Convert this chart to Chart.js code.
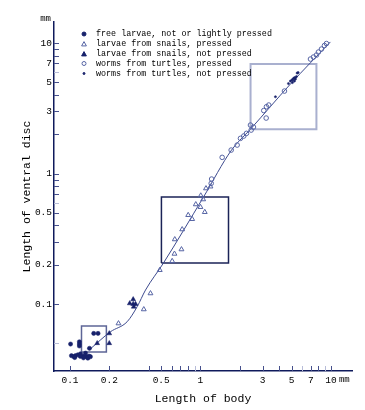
<!DOCTYPE html>
<html><head><meta charset="utf-8">
<script src="https://cdn.jsdelivr.net/npm/chart.js@4.4.1/dist/chart.umd.min.js"></script>
<style>html,body{margin:0;padding:0;background:#fff}canvas{display:block}</style>
</head><body>
<canvas id="c" width="365" height="410"></canvas>
<script>
// ---- data (mm) ----
const seriesLabels = [
  'free larvae, not or lightly pressed',
  'larvae from snails, pressed',
  'larvae from snails, not pressed',
  'worms from turtles, pressed',
  'worms from turtles, not pressed'
];
const freeLarvae = [
  [0.101,0.0494],[0.118,0.0514],[0.118,0.0494],[0.118,0.0477],[0.152,0.0596],[0.164,0.0596],
  [0.141,0.0458],[0.1026,0.0402],[0.1073,0.0395],[0.110,0.0402],[0.1149,0.0409],[0.1205,0.0416],
  [0.1262,0.0400],[0.1315,0.0421],[0.1336,0.0395],[0.137,0.0385],[0.1395,0.0400],[0.1434,0.0395],
  [0.1088,0.0389],[0.1268,0.0387],[0.120,0.0397]
];
const larvaePressed = [
  [0.3677,0.0911],[0.4138,0.1208],[0.2353,0.0711],[0.4876,0.1822],[0.6068,0.2135],[0.632,0.2428],
  [0.7151,0.2625],[0.6354,0.3132],[0.7241,0.3737],[0.8049,0.4808],[0.8637,0.448],[0.9205,0.5808],
  [1.0,0.5537],[1.0789,0.5069],[1.0053,0.6782],[1.0488,0.6342],[1.1019,0.770],[1.193,0.795]
];
const larvaeNotPressed = [
  [0.1616,0.0501],[0.200,0.0596],[0.200,0.0501],[0.287,0.1012],[0.305,0.1087],[0.305,0.100],
  [0.318,0.100],[0.308,0.0954]
];
const wormsPressed = [
  [1.208,0.841],[1.2173,0.9077],[1.4664,1.3309],[1.7187,1.5136],[1.9104,1.6537],[2.0253,1.8612],
  [2.1468,1.939],[2.2517,2.0324],[2.446,2.1544],[2.416,2.3527],[2.5475,2.2712],[3.0556,3.0397],
  [3.2047,3.2508],[3.3376,3.3497],[3.1879,2.6628],[4.4027,4.2869],[6.9663,7.5424],[7.3437,7.8126],
  [7.742,8.091],[8.0192,8.531],[8.4559,8.995],[8.9163,9.569],[9.2368,9.913]
];
const wormsNotPressed = [
  [3.755,3.877],[4.7246,4.8937],[4.8937,5.1143],[5.0244,5.2058],[5.1143,5.2978],[5.2058,5.3926],
  [5.2978,5.4403],[5.3456,5.2978],[5.4403,5.5373],[5.5083,5.8896],[5.607,5.9418],[5.2518,5.1143],
  [5.0697,4.981]
];
const fittedCurve = [
  [0.142,0.045],[0.204,0.0613],[0.274,0.0732],[0.327,0.0954],[0.379,0.128],[0.52,0.206],
  [1.054,0.66],[1.73,1.514],[2.42,2.19],[4.89,4.85],[9.9,10.2]
];
// boxes: [xMin, xMax, yMin, yMax]
const boxSmall = [0.1225, 0.19, 0.0429, 0.0678];
const boxMiddle = [0.502, 1.64, 0.206, 0.66];
const boxLarge = [2.42, 7.74, 2.19, 6.9];

const xRange = [0.0754, 14.5];
const yRange = [0.0307, 14.5];
const xTickValues = [0.1,0.2,0.4,0.5,0.6,0.7,0.8,0.9,1,2,3,4,5,6,7,8,9,10];
const yTickValues = [0.05,0.1,0.2,0.3,0.4,0.5,0.6,0.7,0.8,0.9,1,2,3,4,5,6,7,8,9,10];
const xTickLabels = [0.1,0.2,0.5,1,3,5,7,10];
const yTickLabels = [0.1,0.2,0.5,1,3,5,7,10];
const xLightTicks = [0.9,6,9];
const yLightTicks = [0.05,0.6,6];
const axisTitles = ['Length of body', 'Length of ventral disc'];
const unitLabel = 'mm';

// ---- chart ----
const NAVY = '#17216b';
const OPEN = '#5664a4';
const FONT = "'Liberation Mono', 'DejaVu Sans Mono', monospace";
const pts = a => a.map(([x,y]) => ({x, y}));
const rect = b => [{x:b[0],y:b[2]},{x:b[1],y:b[2]},{x:b[1],y:b[3]},{x:b[0],y:b[3]},{x:b[0],y:b[2]}];
const near = (v, list) => list.some(t => Math.abs(t - v) < 1e-9);

const pointSets = [
  {data: freeLarvae, pointStyle:'circle', pointRadius:2.1, pointBackgroundColor:NAVY, pointBorderColor:NAVY, pointBorderWidth:0.5},
  {data: larvaePressed, pointStyle:'triangle', pointRadius:2.8, pointBackgroundColor:'rgba(255,255,255,0)', pointBorderColor:OPEN, pointBorderWidth:1},
  {data: larvaeNotPressed, pointStyle:'triangle', pointRadius:2.8, pointBackgroundColor:NAVY, pointBorderColor:NAVY, pointBorderWidth:0.5},
  {data: wormsPressed, pointStyle:'circle', pointRadius:2.3, pointBackgroundColor:'rgba(255,255,255,0)', pointBorderColor:OPEN, pointBorderWidth:1},
  {data: wormsNotPressed, pointStyle:'circle', pointRadius:1.1, pointBackgroundColor:NAVY, pointBorderColor:NAVY, pointBorderWidth:0.5}
];

const datasets = pointSets.map((s, i) => Object.assign({}, s, {
  label: seriesLabels[i], data: pts(s.data), showLine: false, order: 1
}));
datasets.push({label:'curve', data: pts(fittedCurve), showLine:true, pointRadius:0, borderColor:'#3d4a8e', borderWidth:1, cubicInterpolationMode:'monotone', fill:false, order:2});
datasets.push({label:'boxSmall', data: rect(boxSmall), showLine:true, pointRadius:0, borderColor:'#5d6597', borderWidth:1.5, tension:0, fill:false, order:3});
datasets.push({label:'boxMiddle', data: rect(boxMiddle), showLine:true, pointRadius:0, borderColor:'#1b2357', borderWidth:1.5, tension:0, fill:false, order:3});
datasets.push({label:'boxLarge', data: rect(boxLarge), showLine:true, pointRadius:0, borderColor:'#a9b0cf', borderWidth:2, tension:0, fill:false, order:3});

const decor = {
  id: 'decor',
  afterDraw(chart) {
    const ctx = chart.ctx, xs = chart.scales.x, ys = chart.scales.y, a = chart.chartArea;
    ctx.save();
    // inward tick marks
    ctx.lineWidth = 1;
    xs.ticks.forEach(t => {
      const px = Math.round(xs.getPixelForValue(t.value)) + 0.5;
      ctx.strokeStyle = near(t.value, xLightTicks) ? '#b7bcd8' : '#46508c';
      ctx.beginPath(); ctx.moveTo(px, a.bottom); ctx.lineTo(px, a.bottom - 5); ctx.stroke();
    });
    ys.ticks.forEach(t => {
      const py = Math.round(ys.getPixelForValue(t.value)) + 0.5;
      ctx.strokeStyle = near(t.value, yLightTicks) ? '#b7bcd8' : '#46508c';
      ctx.beginPath(); ctx.moveTo(a.left, py); ctx.lineTo(a.left + 5, py); ctx.stroke();
    });
    // unit labels
    ctx.fillStyle = '#000';
    ctx.font = '9px ' + FONT;
    ctx.textBaseline = 'middle';
    ctx.textAlign = 'right';
    ctx.fillText(unitLabel, a.left - 3, a.top - 3);
    ctx.textAlign = 'left';
    ctx.fillText(unitLabel, xs.getPixelForValue(10) + 8, a.bottom + 9);
    // legend
    const rows = [34, 44, 54, 63.5, 73.5];
    const mx = 84;
    pointSets.forEach((s, i) => {
      const y = rows[i];
      ctx.fillStyle = s.pointBackgroundColor;
      ctx.strokeStyle = s.pointBorderColor;
      ctx.lineWidth = 1;
      const r = s.pointStyle === 'triangle' ? 2.4 : (i === 4 ? 1.0 : 2.0);
      ctx.beginPath();
      if (s.pointStyle === 'triangle') {
        ctx.moveTo(mx, y - r); ctx.lineTo(mx + r, y + r * 0.8); ctx.lineTo(mx - r, y + r * 0.8); ctx.closePath();
      } else {
        ctx.arc(mx, y, r, 0, Math.PI * 2);
      }
      ctx.fill(); ctx.stroke();
      ctx.fillStyle = '#000';
      ctx.font = '8.4px ' + FONT;
      ctx.textAlign = 'left';
      ctx.textBaseline = 'middle';
      ctx.fillText(seriesLabels[i], 96, y);
    });
    ctx.restore();
  }
};

new Chart(document.getElementById('c'), {
  type: 'scatter',
  data: { datasets },
  options: {
    responsive: false,
    animation: false,
    devicePixelRatio: 1,
    layout: { padding: { top: 22, right: 13, left: 0, bottom: 0 } },
    plugins: { legend: { display: false }, tooltip: { enabled: false } },
    scales: {
      x: {
        type: 'logarithmic', min: xRange[0], max: xRange[1],
        afterBuildTicks: s => { s.ticks = xTickValues.map(v => ({value: v})); },
        afterFit: s => { s.height = 39; },
        grid: { display: false, drawTicks: false },
        border: { display: true, color: '#0f1a5c', width: 1.5 },
        ticks: { autoSkip: false, maxRotation: 0, padding: 4, color: '#000', font: { family: FONT, size: 9.5 },
          callback: v => near(v, xTickLabels) ? String(v) : '' },
        title: { display: true, text: axisTitles[0], color: '#000', font: { family: FONT, size: 11.5 }, padding: { top: 0, bottom: 4 } }
      },
      y: {
        type: 'logarithmic', min: yRange[0], max: yRange[1],
        afterBuildTicks: s => { s.ticks = yTickValues.map(v => ({value: v})); },
        afterFit: s => { s.width = 54; },
        grid: { display: false, drawTicks: false },
        border: { display: true, color: '#0f1a5c', width: 1.5 },
        ticks: { autoSkip: false, padding: 2, color: '#000', font: { family: FONT, size: 9.5 },
          callback: v => near(v, yTickLabels) ? String(v) : '' },
        title: { display: true, text: axisTitles[1], color: '#000', font: { family: FONT, size: 11.5 }, padding: { top: 20, bottom: 0 } }
      }
    }
  },
  plugins: [decor]
});
</script>
</body></html>
